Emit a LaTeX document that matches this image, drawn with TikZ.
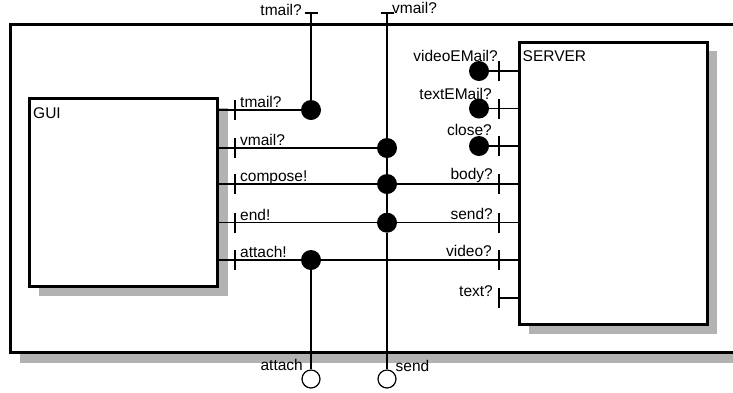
\documentclass[tikz,border=0pt]{standalone}
\usepackage{fontspec}
\setmainfont{Liberation Sans}
\usetikzlibrary{calc}

\begin{document}
\begin{tikzpicture}[x=1pt,y=-1pt,
  blk/.style={draw,line width=3pt,fill=white,outer sep=0pt,inner sep=0pt},
  shd/.style={fill=black!30,draw=none},
  pin/.style={line width=1.2pt},
  jct/.style={circle,fill=black,inner sep=0pt,minimum size=20pt},
  ext/.style={circle,draw=black,fill=white,line width=1.2pt,inner sep=0pt,minimum size=18pt},
  lbl/.style={inner sep=0pt,font=\fontsize{15.5}{18}\selectfont}]
\useasboundingbox (0,0) rectangle (733,392);
% outer block
\fill[shd] (20,34) rectangle (760,363);
\draw[blk] (10.5,24) rectangle (750,352.5);
% GUI
\fill[shd] (39,108) rectangle (227.5,296);
\node[blk,minimum width=188.5pt,minimum height=187.5pt,anchor=north west] (gui) at (29,98.5) {};
\node[lbl,anchor=base west] (guiname) at (33,118) {GUI};
% SERVER
\fill[shd] (529,51) rectangle (717,333.5);
\node[blk,minimum width=187.5pt,minimum height=282pt,anchor=north west] (server) at (519.5,42.5) {};
\node[lbl,anchor=base west] (servername) at (522.5,61) {SERVER};
% GUI ports
\foreach \y/\t/\n in {110/tmail?/gt,148/vmail?/gv,184/compose!/gc,222.7/end!/ge,260/attach!/ga}{
  \coordinate (\n) at (235,\y);
  \draw[pin] (gui.east |- \n) -- (\n);
  \draw[pin] ($(\n)+(0,-10)$) -- ($(\n)+(0,10)$);
  \node[lbl,anchor=base west] (\n l) at (240,\y-2.5) {\t};
}
% SERVER ports
\foreach \y/\n in {71/sa,108.5/sb,146/sc,184/sd,222.7/se,260/sf,298/sg}{
  \coordinate (\n) at (499,\y);
  \draw[pin] (\n) -- (server.west |- \n);
  \draw[pin] ($(\n)+(0,-10)$) -- ($(\n)+(0,10)$);
}
\node[lbl,anchor=base east] (sal) at (498,61) {videoEMail?};
\node[lbl,anchor=base east] (sbl) at (492,99) {textEMail?};
\node[lbl,anchor=base east] (scl) at (492,135.5) {close?};
\node[lbl,anchor=base east] (sdl) at (493,179.5) {body?};
\node[lbl,anchor=base east] (sel) at (493,219) {send?};
\node[lbl,anchor=base east] (sfl) at (492,256.5) {video?};
\node[lbl,anchor=base east] (sgl) at (493,296) {text?};
% outside ports
\coordinate (tin) at (311,13);
\coordinate (vin) at (387,13);
\node[ext] (aout) at (311,379) {};
\node[ext] (sout) at (387,379) {};
\draw[pin] ($(tin)+(-6.5,0)$) -- ($(tin)+(6.5,0)$);
\draw[pin] ($(vin)+(-6.5,0)$) -- ($(vin)+(6.5,0)$);
\node[lbl,anchor=base east] (tinl) at (302,15) {tmail?};
\node[lbl,anchor=base west] (vinl) at (392,13.3) {vmail?};
\node[lbl,anchor=base east] (aoutl) at (303,370) {attach};
\node[lbl,anchor=base west] (soutl) at (395.5,371) {send};
% junctions
\node[jct] (jt) at (311,110) {};
\node[jct] (jv) at (387,148) {};
\node[jct] (jc) at (387,184) {};
\node[jct] (je) at (387,222.7) {};
\node[jct] (ja) at (311,260) {};
\foreach \n/\m in {sa/da,sb/db,sc/dc}
  \node[jct] (\m) at ($(\n)+(-20,0)$) {};
% wires
\draw[pin] (gt) -- (jt);
\draw[pin] (gv) -- (jv);
\draw[pin] (gc) -- (jc) -- (sd);
\draw[pin] (ge) -- (je) -- (se);
\draw[pin] (ga) -- (ja) -- (sf);
\draw[pin] (tin) -- (jt);
\draw[pin] (vin) -- (jv) -- (jc) -- (je) -- (sout);
\draw[pin] (ja) -- (aout);
\foreach \m/\n in {da/sa,db/sb,dc/sc}
  \draw[pin] (\m) -- (\n);
\end{tikzpicture}
\end{document}
